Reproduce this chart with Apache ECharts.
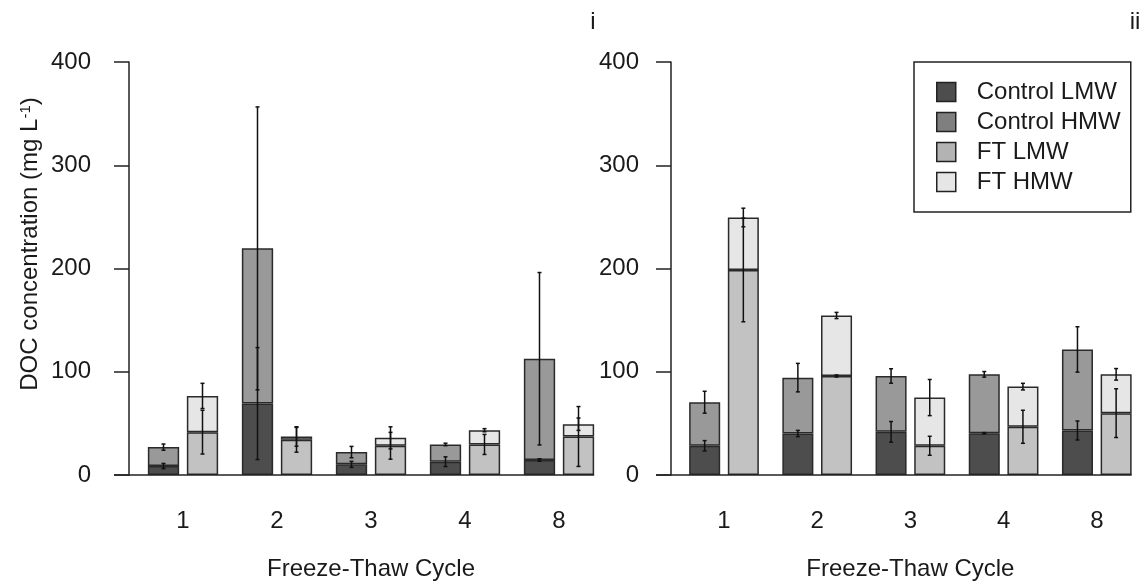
<!DOCTYPE html>
<html>
<head>
<meta charset="utf-8">
<script src="https://cdn.jsdelivr.net/npm/echarts@6/dist/echarts.min.js"></script>
<style>
html,body{margin:0;padding:0;background:#fff;}
#chart{width:1147px;height:586px;}
</style>
</head>
<body>
<div id="chart"></div>
<script>
// ---------------- data ----------------
const categories = ['1', '2', '3', '4', '8'];
const seriesNames = ['Control LMW', 'Control HMW', 'FT LMW', 'FT HMW'];
const yTicks = [0, 100, 200, 300, 400];

// Panel i
const ctrlLMW_i    = [8.7, 69.2, 10.3, 12.9, 14.5];
const ctrlHMW_i    = [18.3, 150.3, 11.9, 16.7, 98.1];
const ctrlLMWErr_i = [2.5, 54.2, 2.9, 4.7, 1.2];
const ctrlTotErr_i = [3.0, 137.0, 5.5, 1.2, 83.5];
const ftLMW_i      = [41.5, 34.1, 28.3, 29.6, 37.3];
const ftHMW_i      = [35.1, 3.2, 7.7, 13.8, 11.9];
const ftLMWErr_i   = [21.2, 12.0, 13.0, 9.7, 29.0];
const ftTotErr_i   = [12.2, 9.4, 10.7, 1.5, 6.0];

// Panel ii
const ctrlLMW_ii    = [28.3, 40.2, 41.8, 40.5, 43.1];
const ctrlHMW_ii    = [42.2, 54.1, 54.1, 57.0, 78.5];
const ctrlLMWErr_ii = [5.0, 3.0, 10.0, 0.6, 9.2];
const ctrlTotErr_ii = [10.6, 13.8, 7.0, 2.7, 22.0];
const ftLMW_ii      = [198.6, 95.9, 28.3, 46.7, 59.9];
const ftHMW_ii      = [50.8, 58.6, 46.7, 38.9, 37.6];
const ftLMWErr_ii   = [50.2, 1.0, 9.2, 16.0, 23.6];
const ftTotErr_ii   = [9.0, 3.0, 17.5, 3.2, 5.6];

// ---------------- style ----------------
const FONT = '"Liberation Sans", Arial, sans-serif';
const TXT = '#1a1a1a';
const barColors = ['#4d4d4d', '#999999', '#c2c2c2', '#e6e6e6'];
const legendColors = ['#4d4d4d', '#7f7f7f', '#b3b3b3', '#e6e6e6'];
const BAR_W = 0.333;   // fraction of category band
const GAP = 0.246;     // fraction of bar width
const TICK_LEN = 15;

const grids = [
  { left: 136, top: 62, width: 470, height: 414, yOffset: 7, labelMargin: 38 },
  { left: 677.4, top: 62, width: 466, height: 414, yOffset: 6.4, labelMargin: 32 }
];

const panels = [
  { ctrlLMW: ctrlLMW_i, ctrlHMW: ctrlHMW_i, ctrlLMWErr: ctrlLMWErr_i, ctrlTotErr: ctrlTotErr_i,
    ftLMW: ftLMW_i, ftHMW: ftHMW_i, ftLMWErr: ftLMWErr_i, ftTotErr: ftTotErr_i },
  { ctrlLMW: ctrlLMW_ii, ctrlHMW: ctrlHMW_ii, ctrlLMWErr: ctrlLMWErr_ii, ctrlTotErr: ctrlTotErr_ii,
    ftLMW: ftLMW_ii, ftHMW: ftHMW_ii, ftLMWErr: ftLMWErr_ii, ftTotErr: ftTotErr_ii }
];

function errData(base, top, err, sign) {
  // base: stack below (or 0), top: own value
  return categories.map((c, i) => {
    const v = (base ? base[i] : 0) + top[i];
    return [i, v - err[i], v + err[i], sign];
  });
}

function renderErr(params, api) {
  const idx = api.value(0);
  const sign = api.value(3);
  const c0 = api.coord([idx, 0]);
  const band = api.size([1, 0])[0];
  const bw = band * BAR_W;
  const x = c0[0] + sign * bw * (1 + GAP) / 2;
  const yL = api.coord([idx, api.value(1)])[1];
  const yH = api.coord([idx, api.value(2)])[1];
  const cap = 2;
  const st = { stroke: '#111', lineWidth: 1.5 };
  return {
    type: 'group',
    children: [
      { type: 'line', shape: { x1: x, y1: yL, x2: x, y2: yH }, style: st },
      { type: 'line', shape: { x1: x - cap, y1: yL, x2: x + cap, y2: yL }, style: st },
      { type: 'line', shape: { x1: x - cap, y1: yH, x2: x + cap, y2: yH }, style: st }
    ]
  };
}

const option = {
  backgroundColor: '#fff',
  animation: false,
  textStyle: { fontFamily: FONT },
  grid: grids.map(g => ({ left: g.left, top: g.top, width: g.width, height: g.height, containLabel: false })),
  xAxis: grids.map((g, k) => ({
    type: 'category', gridIndex: k, data: categories,
    axisLine: { show: false }, axisTick: { show: false },
    axisLabel: { margin: 34, fontSize: 24, color: TXT, fontFamily: FONT },
    name: 'Freeze-Thaw Cycle', nameLocation: 'middle', nameGap: 82,
    nameTextStyle: { fontSize: 24, color: TXT, fontFamily: FONT }
  })),
  yAxis: grids.map((g, k) => ({
    type: 'value', gridIndex: k, min: yTicks[0], max: yTicks[yTicks.length - 1], interval: 100,
    offset: g.yOffset,
    splitLine: { show: false },
    axisLine: { show: true, lineStyle: { color: '#222', width: 1.5 } },
    axisTick: { show: true, length: TICK_LEN, lineStyle: { color: '#222', width: 1.5 } },
    axisLabel: { margin: g.labelMargin, fontSize: 24, color: TXT, fontFamily: FONT }
  })),
  legend: {
    orient: 'vertical', left: 914, top: 62,
    padding: [18, 10, 18, 22],
    borderColor: '#222', borderWidth: 1.5,
    itemWidth: 19, itemHeight: 19, itemGap: 6,
    icon: 'rect',
    textStyle: { fontSize: 24, color: TXT, fontFamily: FONT, lineHeight: 24, padding: [0, 0, 0, 16] },
    itemStyle: { borderColor: '#222', borderWidth: 1.5 },
    data: seriesNames.map((n, i) => ({ name: n, itemStyle: { color: legendColors[i] } }))
  },
  graphic: [],
  series: []
};

panels.forEach((p, k) => {
  const common = { type: 'bar', xAxisIndex: k, yAxisIndex: k, barWidth: (BAR_W * 100) + '%', barGap: (GAP * 100) + '%' };
  const border = { borderColor: '#2a2a2a', borderWidth: 1.5 };
  option.series.push(
    Object.assign({}, common, { name: seriesNames[0], stack: 'ctrl' + k, data: p.ctrlLMW, itemStyle: Object.assign({ color: barColors[0] }, border) }),
    Object.assign({}, common, { name: seriesNames[1], stack: 'ctrl' + k, data: p.ctrlHMW, itemStyle: Object.assign({ color: barColors[1] }, border) }),
    Object.assign({}, common, { name: seriesNames[2], stack: 'ft' + k, data: p.ftLMW, itemStyle: Object.assign({ color: barColors[2] }, border) }),
    Object.assign({}, common, { name: seriesNames[3], stack: 'ft' + k, data: p.ftHMW, itemStyle: Object.assign({ color: barColors[3] }, border) })
  );
  const errSets = [
    errData(null, p.ctrlLMW, p.ctrlLMWErr, -1),
    errData(p.ctrlLMW, p.ctrlHMW, p.ctrlTotErr, -1),
    errData(null, p.ftLMW, p.ftLMWErr, 1),
    errData(p.ftLMW, p.ftHMW, p.ftTotErr, 1)
  ];
  errSets.forEach(d => {
    option.series.push({
      type: 'custom', xAxisIndex: k, yAxisIndex: k, data: d, z: 10,
      renderItem: renderErr, encode: { x: 0, y: [1, 2] }, silent: true
    });
  });
});

const chart = echarts.init(document.getElementById('chart'), null, { renderer: 'canvas' });
chart.setOption(option);

// decorations: baselines, y-axis title, panel labels
const gfx = [];
grids.forEach((g, k) => {
  const y0 = chart.convertToPixel({ yAxisIndex: k }, 0);
  const xFirst = chart.convertToPixel({ xAxisIndex: k }, categories[0]);
  const xSecond = chart.convertToPixel({ xAxisIndex: k }, categories[1]);
  const xLast = chart.convertToPixel({ xAxisIndex: k }, categories[categories.length - 1]);
  const bw = (xSecond - xFirst) * BAR_W;
  const right = xLast + bw * GAP / 2 + bw;
  const left = g.left - g.yOffset - TICK_LEN;
  gfx.push({ type: 'line', shape: { x1: left, y1: y0, x2: right, y2: y0 }, style: { stroke: '#222', lineWidth: 1.5 }, z: 5 });
});
gfx.push({
  type: 'text', x: 30, y: 244, rotation: Math.PI / 2,
  style: {
    text: 'DOC concentration (mg L{sup|-1})', fontSize: 24, fontFamily: FONT, fill: TXT,
    align: 'center', verticalAlign: 'middle',
    rich: { sup: { fontSize: 15, fontFamily: FONT, fill: TXT, verticalAlign: 'top', lineHeight: 24 } }
  }
});
gfx.push({ type: 'text', x: 593, y: 22, style: { text: 'i', fontSize: 24, fontFamily: FONT, fill: TXT, align: 'center', verticalAlign: 'middle' } });
gfx.push({ type: 'text', x: 1135, y: 22, style: { text: 'ii', fontSize: 24, fontFamily: FONT, fill: TXT, align: 'center', verticalAlign: 'middle' } });
chart.setOption({ graphic: gfx });
</script>
</body>
</html>
